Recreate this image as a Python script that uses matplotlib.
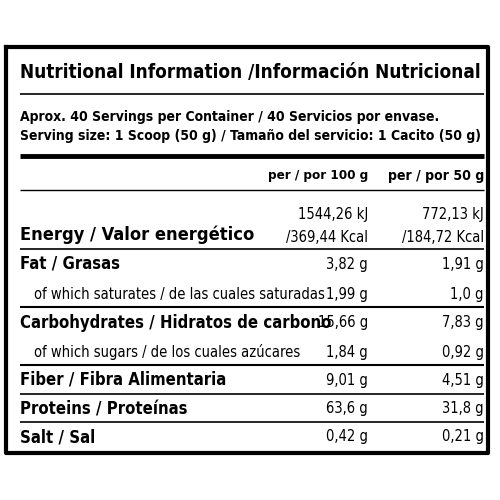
import matplotlib.pyplot as plt

FONT = ['DejaVu Sans']
STRETCH = 'condensed'

title = "Nutritional Information /Información Nutricional"
servings = ["Aprox. 40 Servings per Container / 40 Servicios por envase.",
            "Serving size: 1 Scoop (50 g) / Tamaño del servicio: 1 Cacito (50 g)"]
col_headers = ["per / por 100 g", "per / por 50 g"]

row_labels = ["Fat / Grasas",
              "of which saturates / de las cuales saturadas",
              "Carbohydrates / Hidratos de carbono",
              "of which sugars / de los cuales azúcares",
              "Fiber / Fibra Alimentaria",
              "Proteins / Proteínas",
              "Salt / Sal"]
row_bold = [True, False, True, False, True, True, True]
per100 = ["3,82 g", "1,99 g", "15,66 g", "1,84 g", "9,01 g", "63,6 g", "0,42 g"]
per50 = ["1,91 g", "1,0 g", "7,83 g", "0,92 g", "4,51 g", "31,8 g", "0,21 g"]
row_y = [264, 294, 323, 352, 380, 409, 437]

energy_100 = ["1544,26 kJ", "/369,44 Kcal"]
energy_50 = ["772,13 kJ", "/184,72 Kcal"]

fig = plt.figure(figsize=(5, 5), dpi=100)
ax = fig.add_axes([0, 0, 1, 1])
ax.set_xlim(0, 500)
ax.set_ylim(500, 0)
ax.axis('off')
renderer = fig.canvas.get_renderer()

def put(x, y, s, size, bold=False, ha='left', width=None):
    t = ax.text(x, y, s, fontsize=size, fontweight='bold' if bold else 'normal',
                family=FONT, fontstretch=STRETCH, va='center', ha=ha)
    if width:
        # shrink text so it fills the same width as in the label
        w = t.get_window_extent(renderer).width
        t.set_fontsize(size * width / w)
    return t

# outer frame
ax.plot([6, 488, 488, 6, 6], [47, 47, 453, 453, 47], color='black', lw=3)

L, R = 20, 484
C1, C2 = 368, 484

def hline(y, lw):
    ax.plot([L, R], [y, y], color='black', lw=lw, solid_capstyle='butt')

put(L, 72, title, 19, True, width=458)
hline(94, 1.2)
put(L, 117, servings[0], 11, True, width=420)
put(L, 136, servings[1], 11, True, width=462)
hline(156, 3.5)
put(C1, 176, col_headers[0], 11, True, 'right', width=100)
put(C2, 176, col_headers[1], 11, True, 'right', width=96)
hline(190, 1)

put(L, 235, "Energy / Valor energético", 12, True, width=233)
for i, y in enumerate([214, 237]):
    put(C1, y, energy_100[i], 10.5, ha='right')
    put(C2, y, energy_50[i], 10.5, ha='right')
hline(249, 1.2)

for lab, b, v1, v2, y in zip(row_labels, row_bold, per100, per50, row_y):
    x = L if b else L + 14
    put(x, y, lab, 12 if b else 10.5, b)
    put(C1, y, v1, 10.5, ha='right')
    put(C2, y, v2, 10.5, ha='right')

for y, lw in [(307, 1.5), (365, 1.5), (394, 1.2), (422, 1.2)]:
    hline(y, lw)

fig.savefig('out.png', dpi=100, facecolor='white')
